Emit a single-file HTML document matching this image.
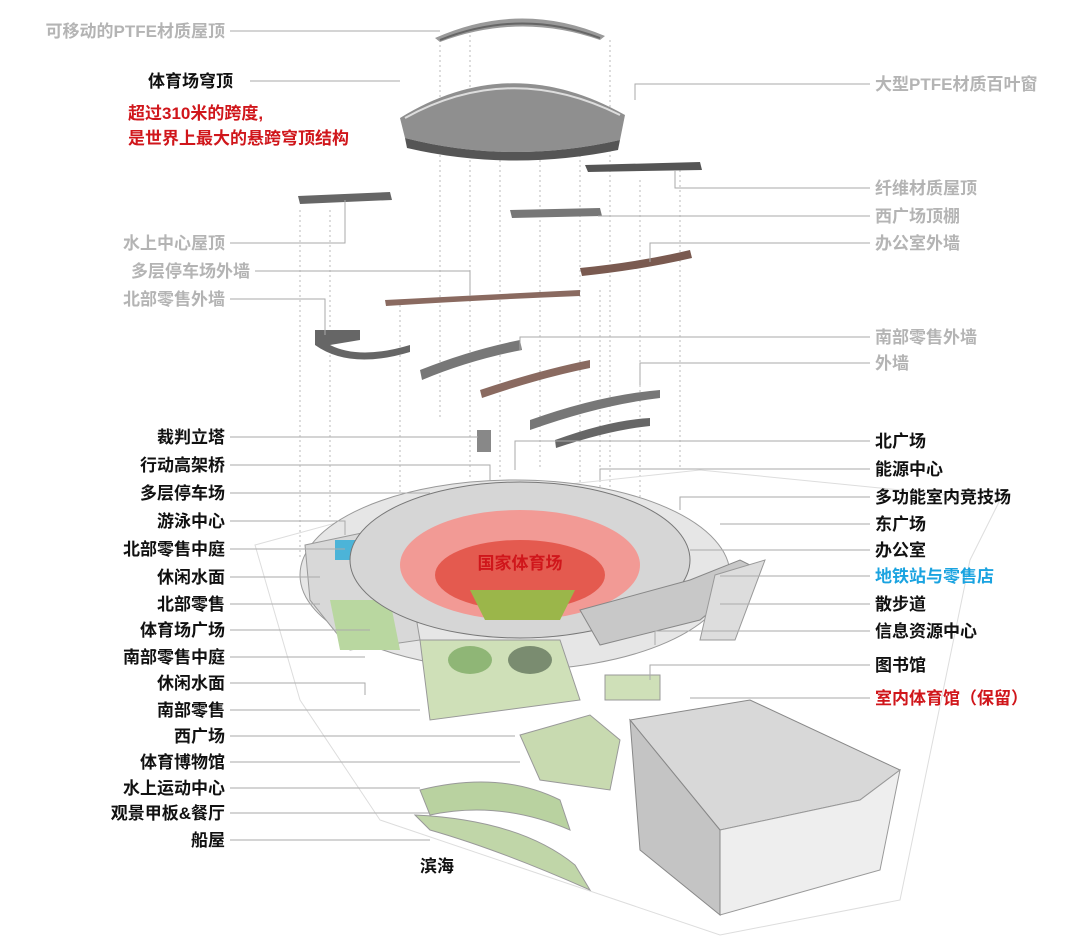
<!DOCTYPE html>
<html><head><meta charset="utf-8"><style>
body{margin:0;background:#fff;}
svg{display:block}
text{font-family:"Liberation Sans","Noto Sans CJK SC",sans-serif;font-weight:bold;font-size:17px}
.g{fill:#b4b4b4}.k{fill:#111}.r{fill:#d0161b}.c{fill:#1aa3e0}
.l{stroke:#aaa;stroke-width:1;fill:none}
.d{stroke:#bbb;stroke-width:1;stroke-dasharray:2 3;fill:none}
</style></head><body>
<svg width="1080" height="941" viewBox="0 0 1080 941" xmlns="http://www.w3.org/2000/svg">
<g class="d">
<path d="M440 40V420M470 30V480M500 150V500M540 150V470M580 150V500M610 40V500M300 210V560M330 210V520M400 300V600M640 180V500M680 170V470M600 290V620"/>
</g>
<path d="M435 38 Q520 0 605 36 L600 40 Q520 12 440 42Z" fill="#9a9a9a"/>
<path d="M440 40 Q520 8 600 38" stroke="#666" stroke-width="2" fill="none"/>
<path d="M400 118 Q510 50 625 115 L620 140 Q510 165 405 138Z" fill="#8f8f8f"/>
<path d="M405 118 Q510 60 620 115" stroke="#ddd" stroke-width="2" fill="none"/>
<path d="M405 138 Q510 165 620 140 L618 150 Q510 172 407 148Z" fill="#555"/>
<path d="M298 196 L390 192 L392 200 L300 204Z" fill="#666"/>
<path d="M585 165 L700 162 L702 170 L588 172Z" fill="#555"/>
<path d="M510 210 L600 208 L602 216 L512 218Z" fill="#777"/>
<path d="M580 268 Q640 262 690 250 L692 258 Q640 270 582 276Z" fill="#7a5a50"/>
<path d="M385 300 Q480 295 580 290 L580 296 Q480 300 386 306Z" fill="#8a6a60"/>
<path d="M315 330 L360 330 L360 340 L330 345 Q360 360 410 345 L410 352 Q350 370 315 345Z" fill="#666"/>
<path d="M420 370 Q470 350 520 340 L522 350 Q470 360 422 380Z" fill="#777"/>
<path d="M480 390 Q540 370 590 360 L590 368 Q540 378 482 398Z" fill="#8a6a60"/>
<path d="M530 420 Q600 395 660 390 L660 398 Q600 405 530 430Z" fill="#777"/>
<path d="M555 440 Q610 420 650 418 L650 426 Q610 430 556 448Z" fill="#666"/>
<rect x="477" y="430" width="14" height="22" fill="#888"/>
<path d="M255 545 L420 500 L700 470 L1000 500 L970 560 L900 900 L720 935 L380 820 L300 700Z" fill="none" stroke="#ddd"/>
<ellipse cx="515" cy="575" rx="215" ry="95" fill="#e6e6e6" stroke="#999"/>
<path d="M305 545 L400 525 L420 640 L350 650 L310 600Z" fill="#d8d8d8" stroke="#999"/>
<rect x="335" y="540" width="30" height="20" fill="#4cb4d8"/>
<path d="M330 600 L390 600 L400 650 L340 650Z" fill="#b9d7a0"/>
<path d="M420 640 L560 640 L580 700 L430 720Z" fill="#cfe0b8" stroke="#999"/>
<ellipse cx="470" cy="660" rx="22" ry="14" fill="#8fb676"/>
<ellipse cx="530" cy="660" rx="22" ry="14" fill="#7a8c70"/>
<ellipse cx="520" cy="560" rx="170" ry="78" fill="#d6d6d6" stroke="#777"/>
<ellipse cx="520" cy="565" rx="120" ry="55" fill="#f29a95"/>
<ellipse cx="520" cy="575" rx="85" ry="35" fill="#e45a4f"/>
<path d="M470 590 L575 590 L560 620 L485 620Z" fill="#9bb64a"/>
<path d="M580 610 L690 580 L740 560 L760 570 L700 620 L600 645Z" fill="#c8c8c8" stroke="#888"/>
<path d="M715 575 L765 560 L735 640 L700 640Z" fill="#ddd" stroke="#999"/>
<rect x="605" y="675" width="55" height="25" fill="#cfe0b8" stroke="#999"/>
<path d="M520 735 L590 715 L620 740 L610 790 L540 780Z" fill="#c8dab0" stroke="#999"/>
<path d="M420 790 Q500 770 560 800 L570 830 Q500 800 430 815Z" fill="#b9d2a0" stroke="#999"/>
<path d="M415 815 Q520 820 575 865 L590 890 Q500 850 430 830Z" fill="#c0d6a8" stroke="#999"/>
<path d="M630 720 L750 700 L900 770 L860 800 L720 830 Z" fill="#d8d8d8" stroke="#888"/>
<path d="M720 830 L860 800 L900 770 L880 870 L720 915Z" fill="#eeeeee" stroke="#999"/>
<path d="M630 720 L720 830 L720 915 L640 850Z" fill="#c4c4c4" stroke="#888"/>
<text x="520" y="569" text-anchor="middle" class="r">国家体育场</text>
<g class="l">
<path d="M230 31H440M250 81H400M230 243H345V200M255 271H470V296M230 299H325V335M230 437H478M230 465H490V480M230 493H430M230 521H345V535M230 549H345M230 577H320M230 604H320M230 630H370M230 657H365M230 683H365V695M230 710H420M230 736H515M230 762H520M230 788H420M230 813H430M230 840H430"/>
</g>
<g class="l">
<path d="M870 84H635V100M870 188H675V170M870 216H598M870 243H650V262M870 337H520V350M870 363H640V385M870 441H515V470M870 469H600V480M870 497H680V510M870 524H720M870 550H690M870 576H720M870 604H720M870 631H655V645M870 665H650V680M870 698H690"/>
</g>
<g text-anchor="end">
<text x="225" y="37" class="g">可移动的PTFE材质屋顶</text>
<text x="225" y="249" class="g">水上中心屋顶</text>
<text x="250" y="277" class="g">多层停车场外墙</text>
<text x="225" y="305" class="g">北部零售外墙</text>
<text x="225" y="443" class="k">裁判立塔</text>
<text x="225" y="471" class="k">行动高架桥</text>
<text x="225" y="499" class="k">多层停车场</text>
<text x="225" y="527" class="k">游泳中心</text>
<text x="225" y="555" class="k">北部零售中庭</text>
<text x="225" y="583" class="k">休闲水面</text>
<text x="225" y="610" class="k">北部零售</text>
<text x="225" y="636" class="k">体育场广场</text>
<text x="225" y="663" class="k">南部零售中庭</text>
<text x="225" y="689" class="k">休闲水面</text>
<text x="225" y="716" class="k">南部零售</text>
<text x="225" y="742" class="k">西广场</text>
<text x="225" y="768" class="k">体育博物馆</text>
<text x="225" y="794" class="k">水上运动中心</text>
<text x="225" y="819" class="k">观景甲板&amp;餐厅</text>
<text x="225" y="846" class="k">船屋</text>
</g>
<text x="148" y="87" class="k">体育场穹顶</text>
<text x="128" y="119" class="r">超过310米的跨度,</text>
<text x="128" y="144" class="r">是世界上最大的悬跨穹顶结构</text>
<text x="420" y="872" class="k">滨海</text>
<text x="875" y="90" class="g">大型PTFE材质百叶窗</text>
<text x="875" y="194" class="g">纤维材质屋顶</text>
<text x="875" y="222" class="g">西广场顶棚</text>
<text x="875" y="249" class="g">办公室外墙</text>
<text x="875" y="343" class="g">南部零售外墙</text>
<text x="875" y="369" class="g">外墙</text>
<text x="875" y="447" class="k">北广场</text>
<text x="875" y="475" class="k">能源中心</text>
<text x="875" y="503" class="k">多功能室内竞技场</text>
<text x="875" y="530" class="k">东广场</text>
<text x="875" y="556" class="k">办公室</text>
<text x="875" y="582" class="c">地铁站与零售店</text>
<text x="875" y="610" class="k">散步道</text>
<text x="875" y="637" class="k">信息资源中心</text>
<text x="875" y="671" class="k">图书馆</text>
<text x="875" y="704" class="r">室内体育馆（保留）</text>
</svg>
</body></html>
